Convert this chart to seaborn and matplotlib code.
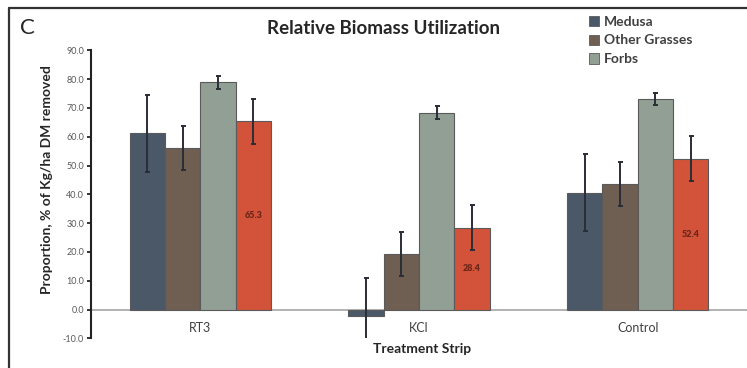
import matplotlib
matplotlib.use("Agg")
import matplotlib.pyplot as plt
from matplotlib.patches import Patch
from matplotlib.lines import Line2D
import seaborn as sns
import pandas as pd
import numpy as np

strips = ["RT3", "KCl", "Control"]
groups = ["Medusa", "Other Grasses", "Forbs", "Total"]
medusa = [61.2, -2.4, 40.6]
other_grasses = [56.0, 19.2, 43.6]
forbs = [78.9, 68.3, 73.1]
total = [65.3, 28.4, 52.4]
medusa_err = [13.3, 13.4, 13.3]
other_grasses_err = [7.6, 7.6, 7.6]
forbs_err = [2.3, 2.2, 2.2]
total_err = [7.75, 7.8, 7.7]
total_labels = ["65.3", "28.4", "52.4"]
legend_groups = ["Medusa", "Other Grasses", "Forbs"]
yticks = [-10, 0, 10, 20, 30, 40, 50, 60, 70, 80, 90]

values = [medusa, other_grasses, forbs, total]
errors = [medusa_err, other_grasses_err, forbs_err, total_err]
colors = ["#4b5868", "#6f5e52", "#919f94", "#d3533a"]

rows = []
for g, vals in zip(groups, values):
    for s, v in zip(strips, vals):
        rows.append({"Strip": s, "Group": g, "Value": v})
df = pd.DataFrame(rows)

sns.set_theme(style="white")
plt.rcParams["font.family"] = ["Lato", "DejaVu Sans"]

fig = plt.figure(figsize=(7.47, 3.68), dpi=100)
ax = fig.add_axes([91 / 747, (368 - 338.3) / 368, (747 - 91) / 747, 288 / 368])

sns.barplot(data=df, x="Strip", y="Value", hue="Group", order=strips,
            hue_order=groups, palette=colors, width=0.646, errorbar=None,
            edgecolor="#5a5a5a", linewidth=0.8, saturation=1, legend=False, ax=ax)

for cont, vals, errs in zip(ax.containers, values, errors):
    for bar, v, e in zip(cont, vals, errs):
        x = bar.get_x() + bar.get_width() / 2
        ax.errorbar(x, v, yerr=e, fmt="none", ecolor="#2a2d36", elinewidth=1.4,
                    capsize=1.8, capthick=1.4, zorder=5)

for bar, v, lab in zip(ax.containers[3], total, total_labels):
    x = bar.get_x() + bar.get_width() / 2
    ax.text(x, v / 2, lab, ha="center", va="center", fontsize=6.5,
            fontweight="heavy", color="#6e2618", zorder=6)

ax.set_xlim(-0.5, 2.5)
ax.set_ylim(-10, 90)
ax.set_yticks(yticks)
ax.set_yticklabels([f"{t:.1f}" for t in yticks], fontsize=6.5, color="#595959")
ax.tick_params(axis="y", which="both", left=True, length=3, width=1.3,
               color="#222222", pad=2)
ax.tick_params(axis="x", length=0, pad=9, labelsize=9, labelcolor="#404040")
ax.set_xlabel("")
ax.set_ylabel("")
for sp in ["top", "right"]:
    ax.spines[sp].set_visible(False)
ax.spines["left"].set_color("#222222")
ax.spines["left"].set_linewidth(1.5)
ax.spines["bottom"].set_position(("data", 0))
ax.spines["bottom"].set_color("#a6a6a6")
ax.spines["bottom"].set_linewidth(1.2)
ax.spines["bottom"].set_zorder(0.5)

fig.text(383 / 747, 1 - 28 / 368, "Relative Biomass Utilization", ha="center",
         va="center", fontsize=13.5, fontweight="bold", color="#262626")
fig.text(20 / 747, 1 - 28 / 368, "C", ha="left", va="center", fontsize=16,
         color="#262626")
fig.text(47 / 747, 1 - 180 / 368, "Proportion, % of Kg/ha DM removed",
         rotation=90, ha="center", va="center", fontsize=10, fontweight="bold",
         color="#262626")
fig.text(422 / 747, 1 - 349 / 368, "Treatment Strip", ha="center", va="center",
         fontsize=10, fontweight="bold", color="#262626")

handles = [Patch(facecolor=c, edgecolor="#5a5a5a", linewidth=0.6)
           for c in colors[:3]]
leg = fig.legend(handles, legend_groups, loc="upper left",
                 bbox_to_anchor=(576 / 747, 1 - 3 / 368), frameon=False,
                 handlelength=0.75, handleheight=0.75, handletextpad=0.35,
                 labelspacing=0.5, prop={"size": 10, "weight": "bold"})
for t in leg.get_texts():
    t.set_color("#404040")

fig.add_artist(Line2D([9 / 747, 9 / 747], [0, 1 - 8 / 368], color="#333333",
                      linewidth=1.6, transform=fig.transFigure))
fig.add_artist(Line2D([9 / 747, 1], [1 - 8 / 368, 1 - 8 / 368], color="#333333",
                      linewidth=1.6, transform=fig.transFigure))

fig.savefig("out.png", dpi=100)
